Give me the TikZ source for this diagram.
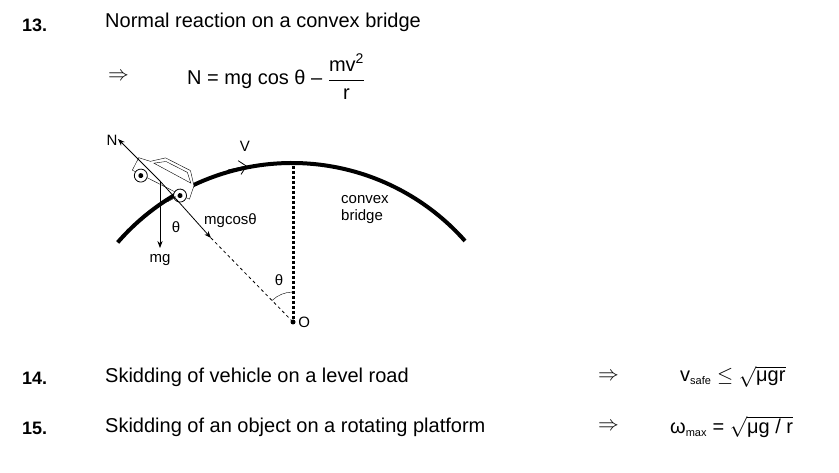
\documentclass[tikz,border=0pt]{standalone}
\usepackage{fontspec}
\setmainfont{Liberation Sans}
\usepackage{amsmath}
\usetikzlibrary{arrows.meta}
\tikzset{txt/.style={anchor=west, inner sep=0pt, font=\fontsize{20}{24}\selectfont},
  lbl/.style={inner sep=1pt, font=\fontsize{15}{17}\selectfont},
  force/.style={thick, -{Stealth[length=7pt]}}}

\begin{document}
\begin{tikzpicture}[x=1pt, y=-1pt]
    \useasboundingbox (0,0) rectangle (839,473);

    % headings
    \node [txt, font=\bfseries\fontsize{18}{20}\selectfont] (n13) at (22,25) {13.};
    \node [txt] (t13) at (105,22) {Normal reaction on a convex bridge};
    \node [txt] (imp13) at (108,77) {$\Rightarrow$};
    \node [txt] (eq13) at (187,77) {N = mg cos θ – \raisebox{-0.1ex}{$\dfrac{\text{mv}^{\text{2}}}{\text{r}}$}};

    % bridge
    \coordinate (O) at (293,322);
    \draw [line width=4pt] (292,394) ++(-139:231) arc (-139:-41.5:231);
    \draw [line width=3pt, dotted] (293,166) -- (O);
    \fill (O) circle (2.5);
    \node [lbl, anchor=west] (Olbl) at (O) {~O};
    \draw [thick, -{Straight Barb[length=7pt]}] (228,170) -- (247,166);
    \node [lbl] (V) at (245,146) {V};
    \node [lbl, align=left, anchor=west] (conv) at (340,210) {convex\\bridge};

    % car
    \begin{scope}[shift={(160,182)}, rotate=-27, yscale=-1]
        \draw [fill=white] (-30,-2) -- (-30,12) -- (-18,14) -- (-6,24) -- (22,24) -- (32,12) -- (34,-2) -- cycle;
        \draw (-14,14) -- (-4,21) -- (20,21) -- (28,13) -- cycle;
        \draw [fill=white, thick] (-20,-3) circle (6.5) (24,-3) circle (6.5);
        \fill (-20,-3) circle (2.5) (24,-3) circle (2.5);
    \end{scope}

    % forces
    \coordinate (P) at (160,181);
    \draw [force] (P) -- (118,139);
    \node [lbl] (N) at (112,140) {N};
    \draw [force] (P) -- (211,238);
    \node [lbl, anchor=west] (mgc) at (203,221) {mgcosθ};
    \draw [thick, dash pattern=on 3pt off 3pt] (211,238) -- (O);
    \draw [force] (P) -- (160,248);
    \node [lbl] (mg) at (160,260) {mg};
    \draw (160,203) arc (90:45:22);
    \node [lbl] (th1) at (176,227) {θ};
    \draw (293,292) arc (-90:-134:30);
    \node [lbl] (th2) at (279,280) {θ};

    % rows 14 and 15
    \node [txt, font=\bfseries\fontsize{18}{20}\selectfont] (n14) at (22,378) {14.};
    \node [txt] (t14) at (105,377) {Skidding of vehicle on a level road};
    \node [txt] (imp14) at (598,377) {$\Rightarrow$};
    \node [txt] (eq14) at (680,377) {v\textsubscript{\fontsize{11}{12}\selectfont safe} $\le\sqrt{\text{μgr}}$};
    \node [txt, font=\bfseries\fontsize{18}{20}\selectfont] (n15) at (22,428) {15.};
    \node [txt] (t15) at (105,427) {Skidding of an object on a rotating platform};
    \node [txt] (imp15) at (598,427) {$\Rightarrow$};
    \node [txt] (eq15) at (670,427) {ω\textsubscript{\fontsize{11}{12}\selectfont max} = $\sqrt{\text{μg / r}}$};
\end{tikzpicture}
\end{document}
